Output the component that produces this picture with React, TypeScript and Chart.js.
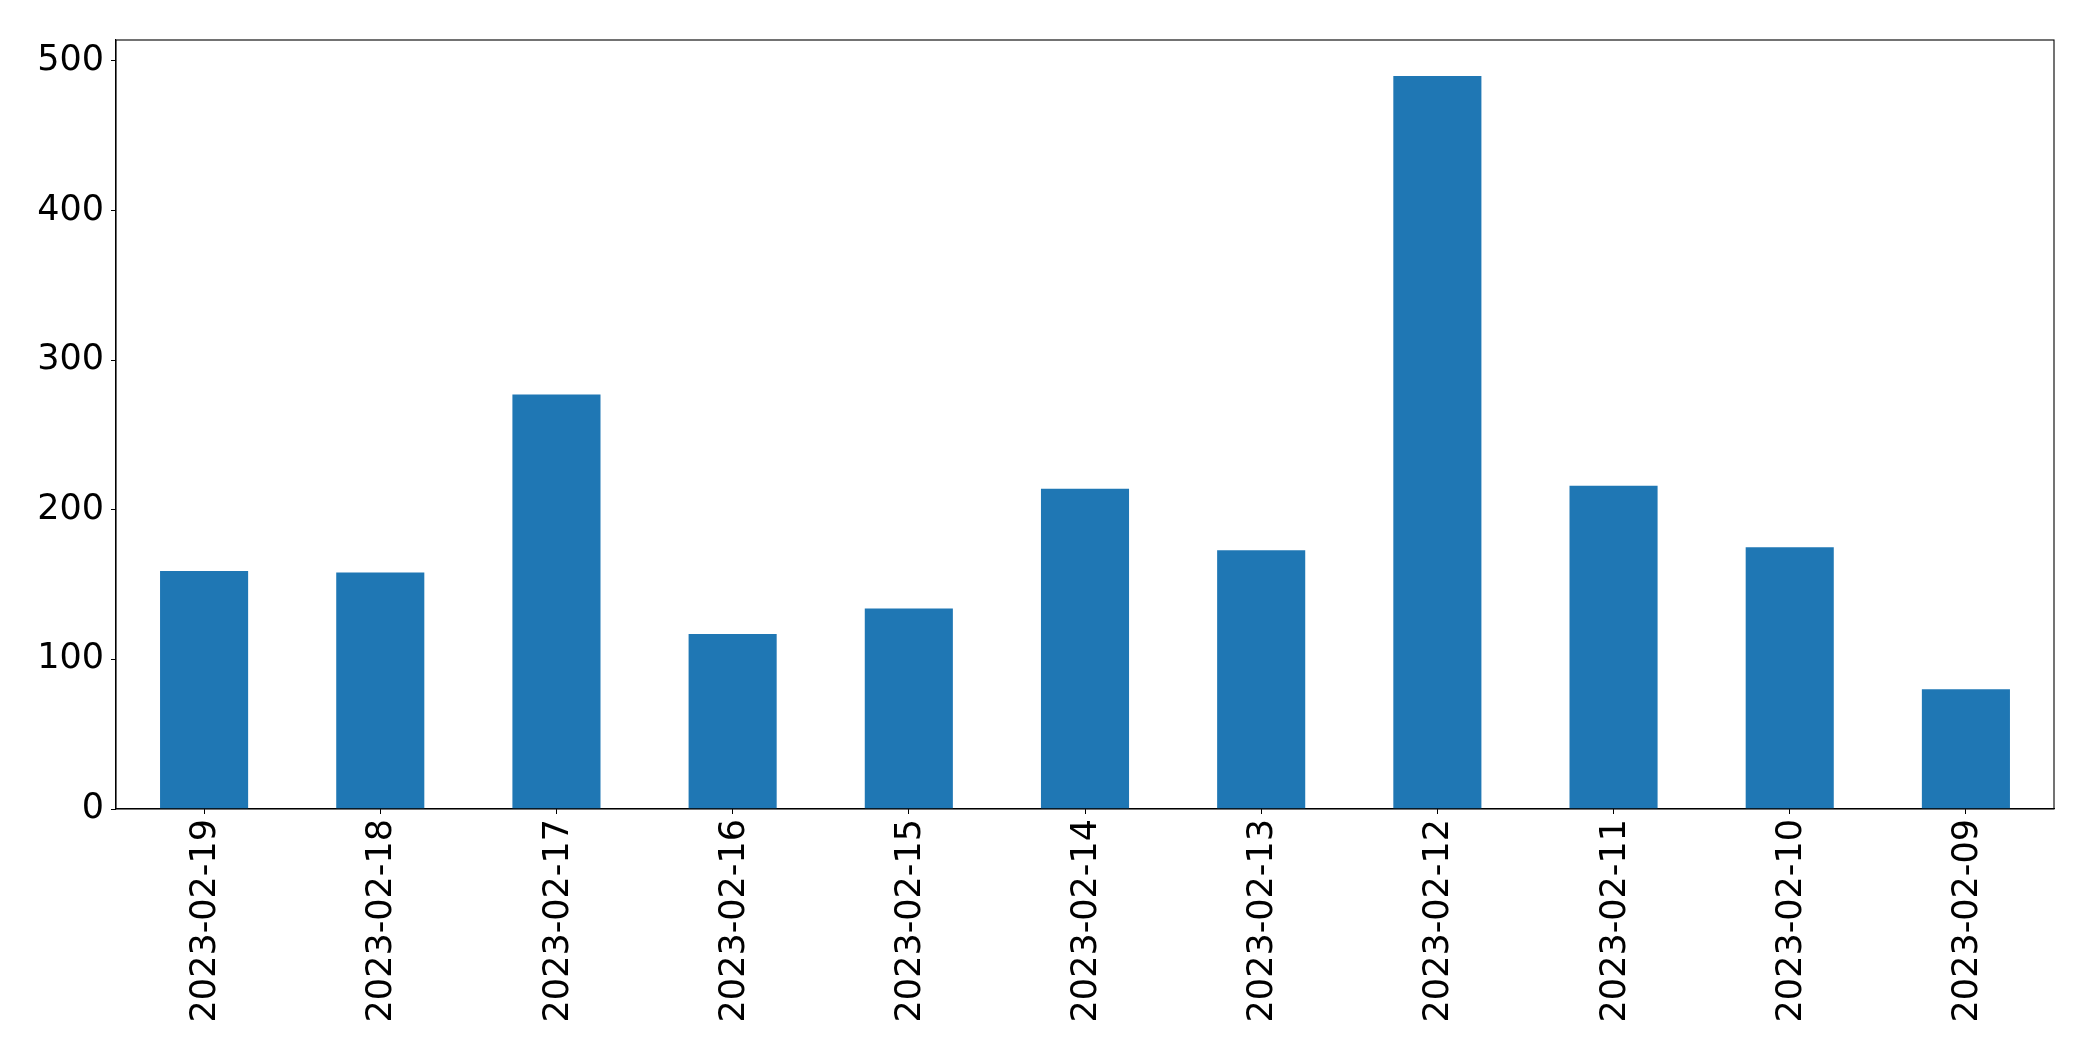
import React, { useEffect, useRef } from "react";
import { Chart, registerables } from "chart.js";

Chart.register(...registerables);

const categories = [
  "2023-02-19",
  "2023-02-18",
  "2023-02-17",
  "2023-02-16",
  "2023-02-15",
  "2023-02-14",
  "2023-02-13",
  "2023-02-12",
  "2023-02-11",
  "2023-02-10",
  "2023-02-09",
];
const values = [159, 158, 277, 117, 134, 214, 173, 490, 216, 175, 80];
const yTicks = [0, 100, 200, 300, 400, 500];
const yMax = 514;

const W = 2093;
const H = 1061;

const frame = {
  id: "frame",
  afterDraw(chart: any) {
    const { ctx, chartArea } = chart;
    ctx.save();
    ctx.strokeStyle = "#000";
    ctx.lineWidth = 1.1;
    ctx.strokeRect(chartArea.left, chartArea.top, chartArea.right - chartArea.left, chartArea.bottom - chartArea.top);
    ctx.restore();
  },
};

export default function App() {
  const ref = useRef<HTMLCanvasElement | null>(null);
  useEffect(() => {
    if (!ref.current) return;
    const font = { family: "'DejaVu Sans', sans-serif", size: 35 };
    const chart = new Chart(ref.current, {
      type: "bar",
      data: {
        labels: categories,
        datasets: [
          {
            data: values,
            backgroundColor: "#1f77b4",
            borderWidth: 0,
            categoryPercentage: 1.0,
            barPercentage: 0.5,
          },
        ],
      },
      options: {
        animation: false,
        responsive: false,
        maintainAspectRatio: false,
        layout: { padding: { top: 40, right: 39, left: 0, bottom: 0 } },
        plugins: { legend: { display: false }, tooltip: { enabled: false } },
        scales: {
          x: {
            offset: true,
            grid: { display: true, drawOnChartArea: false, drawTicks: true, tickLength: 5, tickColor: "#000", offset: false },
            border: { display: true, color: "#000", width: 1.1 },
            ticks: { color: "#000", font, maxRotation: 90, minRotation: 90, padding: 5, autoSkip: false, labelOffset: 2 },
            afterFit: (s: any) => {
              s.height = H - 809;
            },
          },
          y: {
            min: 0,
            max: yMax,
            grid: { display: true, drawOnChartArea: false, drawTicks: true, tickLength: 5, tickColor: "#000" },
            border: { display: true, color: "#000", width: 1.1 },
            ticks: {
              color: "#000",
              font,
              padding: 7,
              stepSize: 100,
              includeBounds: false,
              callback: (v: any) => (yTicks.includes(Number(v)) ? String(v) : ""),
            },
            afterFit: (s: any) => {
              s.width = 116;
            },
          },
        },
      },
      plugins: [frame],
    });
    return () => chart.destroy();
  }, []);
  return (
    <div style={{ position: "fixed", left: 0, top: 0, width: W, height: H, background: "#fff" }}>
      <canvas ref={ref} width={W} height={H} style={{ width: W, height: H, display: "block" }} />
    </div>
  );
}
